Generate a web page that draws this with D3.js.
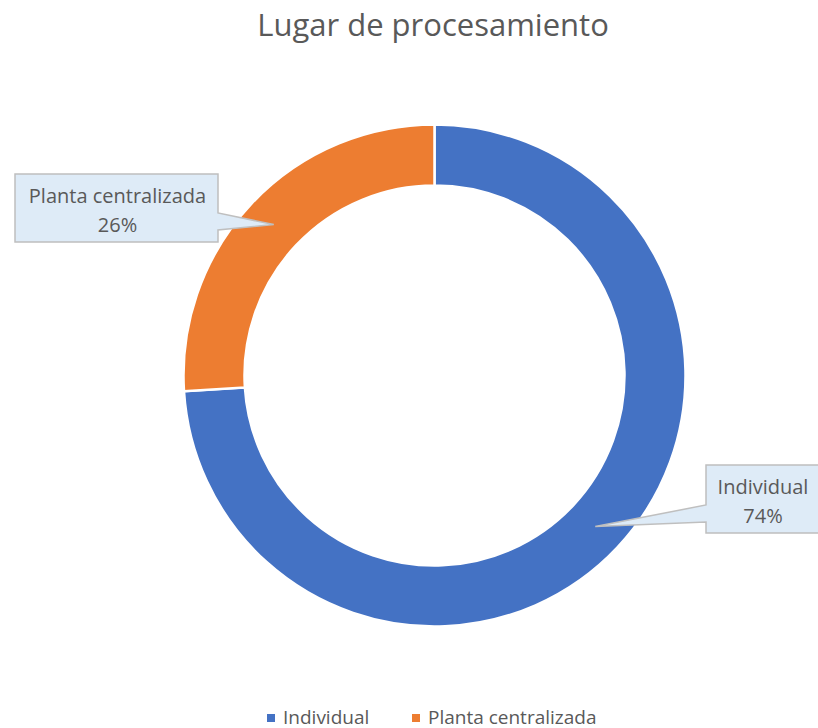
<!DOCTYPE html>
<html>
<head>
<meta charset="utf-8">
<script src="https://cdn.jsdelivr.net/npm/d3@7"></script>
<style>
  body { margin: 0; background: #fff; }
  svg { display: block; font-family: "Open Sans", "Noto Sans", sans-serif; }
</style>
</head>
<body>
<div id="chart"></div>
<script>
let categories = ["Individual", "Planta centralizada"];
let values = [74, 26];
let percentLabels = ["74%", "26%"];
let colors = ["#4472C4", "#ED7D31"];

let w = 818;
let h = 728;
let cx = 434.5, cy = 375.5;
let outerR = 251, innerR = 190;

let svg = d3.select("#chart")
  .append("svg")
    .attr("width", w)
    .attr("height", h);

// title
svg.append("text")
  .attr("x", 433)
  .attr("y", 36)
  .attr("text-anchor", "middle")
  .style("font-size", "31px")
  .style("fill", "#595959")
  .text("Lugar de procesamiento");

let pie = d3.pie().sort(null).value(d => d);
let arc = d3.arc().innerRadius(innerR).outerRadius(outerR);
let arcs = pie(values);

let g = svg.append("g").attr("transform", `translate(${cx},${cy})`);

g.selectAll("path")
  .data(arcs)
  .enter()
  .append("path")
    .attr("d", arc)
    .style("fill", (d, i) => colors[i])
    .style("stroke", "#fff")
    .style("stroke-width", 2.5);

// callouts (box layout per slice)
let boxes = [
  {x: 706, y: 465, w: 114, h: 68, side: "left", b0: 505, b1: 522},
  {x: 15, y: 174, w: 203, h: 68, side: "right", b0: 213, b1: 230}
];

arcs.forEach(function(d, i) {
  let c = arc.centroid(d);
  let tip = [cx + c[0], cy + c[1]];
  let b = boxes[i];
  let p;
  if (b.side === "left") {
    p = `M${b.x},${b.y} L${b.x + b.w},${b.y} L${b.x + b.w},${b.y + b.h} L${b.x},${b.y + b.h} L${b.x},${b.b1} L${tip[0]},${tip[1]} L${b.x},${b.b0} Z`;
  } else {
    let r = b.x + b.w;
    p = `M${b.x},${b.y} L${r},${b.y} L${r},${b.b0} L${tip[0]},${tip[1]} L${r},${b.b1} L${r},${b.y + b.h} L${b.x},${b.y + b.h} Z`;
  }
  svg.append("path")
    .attr("d", p)
    .style("fill", "#DEEBF7")
    .style("stroke", "#BFBFBF")
    .style("stroke-width", 1.5);

  let tx = b.x + b.w / 2 + (i === 0 ? 0 : 1);
  svg.append("text")
    .attr("x", tx)
    .attr("y", b.y + 29)
    .attr("text-anchor", "middle")
    .style("font-size", "20px")
    .style("fill", "#595959")
    .text(categories[i]);
  svg.append("text")
    .attr("x", tx)
    .attr("y", b.y + 58)
    .attr("text-anchor", "middle")
    .style("font-size", "20px")
    .style("fill", "#595959")
    .text(percentLabels[i]);
});

// legend
let legendX = [267, 412];
let legend = svg.selectAll(".leg")
  .data(categories)
  .enter()
  .append("g")
    .attr("transform", (d, i) => `translate(${legendX[i]},714)`);

legend.append("rect")
  .attr("width", 8)
  .attr("height", 8)
  .style("fill", (d, i) => colors[i]);

legend.append("text")
  .attr("x", 16)
  .attr("y", 9.5)
  .style("font-size", "19px")
  .style("fill", "#595959")
  .text(d => d);
</script>
</body>
</html>
